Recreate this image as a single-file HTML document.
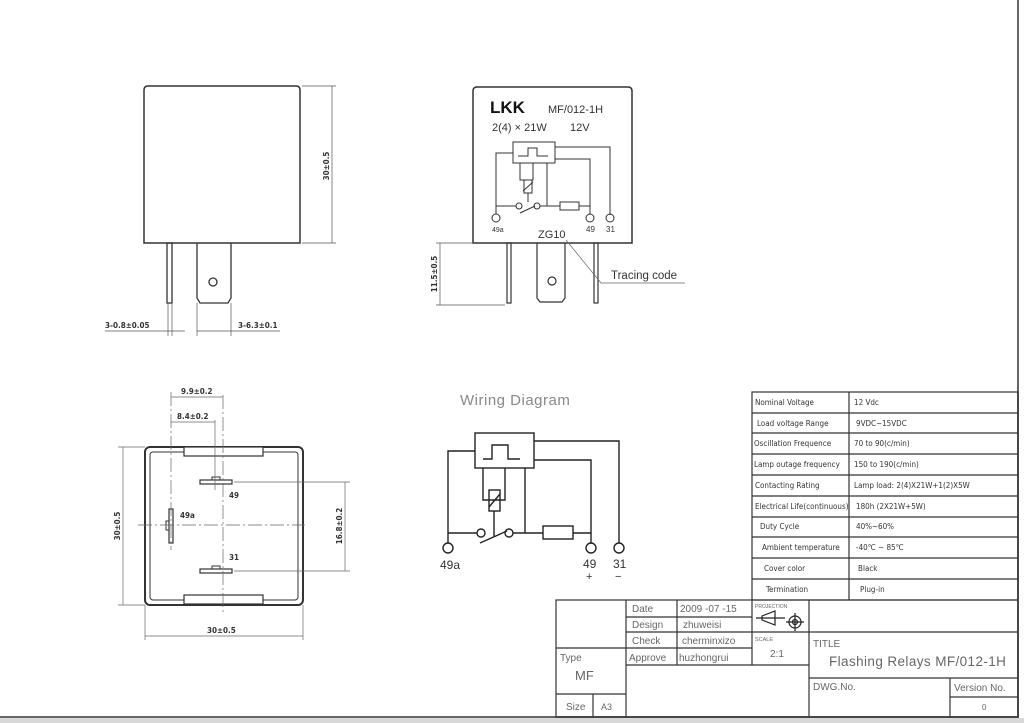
<!DOCTYPE html>
<html><head><meta charset="utf-8"><style>
html,body{margin:0;padding:0;background:#fff}
svg{display:block}
text{font-family:"Liberation Sans","DejaVu Sans",sans-serif;fill:#333}
.t{font-size:8px;font-family:"DejaVu Sans Condensed","Liberation Sans Narrow","Liberation Sans",sans-serif;fill:#333}
.g{fill:#666}
</style></head><body>
<svg width="1024" height="723" viewBox="0 0 1024 723" xmlns="http://www.w3.org/2000/svg">
<rect width="1024" height="723" fill="#fff"/>
<rect x="0" y="718" width="1024" height="5" fill="#d8d8d8"/>
<line x1="0" y1="717" x2="1019" y2="717" stroke="#666" stroke-width="2"/>
<line x1="1018" y1="0" x2="1018" y2="718" stroke="#666" stroke-width="2"/>

<g fill="none" stroke="#333" stroke-width="1.3">
<path d="M144,243 V90 Q144,86 148,86 H296 Q300,86 300,90 V243 Z" stroke-width="1.5"/>
<rect x="167" y="243" width="5" height="60"/>
<path d="M197,243 V298 L200,303 H228 L231,298 V243"/>
<circle cx="213" cy="282" r="4"/>
</g>
<g stroke="#555" stroke-width="0.7" fill="none">
<line x1="302" y1="86" x2="336" y2="86"/><line x1="302" y1="243" x2="336" y2="243"/>
<line x1="332" y1="86" x2="332" y2="243"/>
<line x1="168" y1="303" x2="168" y2="336"/><line x1="172" y1="303" x2="172" y2="336"/>
<line x1="197" y1="303" x2="197" y2="336"/><line x1="231" y1="303" x2="231" y2="336"/>
<line x1="105" y1="331" x2="185" y2="331"/><line x1="197" y1="331" x2="280" y2="331"/>
</g>
<text class="t" transform="translate(329,166) rotate(-90)" text-anchor="middle" font-weight="bold">30±0.5</text>
<text class="t" x="105" y="328" font-weight="bold">3-0.8±0.05</text>
<text class="t" x="238" y="328" font-weight="bold">3-6.3±0.1</text>

<g fill="none" stroke="#333" stroke-width="1.5">
<path d="M473,243 V91 Q473,87 477,87 H628 Q632,87 632,91 V243 Z"/>
<rect x="507" y="243" width="4" height="60" stroke-width="1.2"/>
<rect x="594" y="243" width="4" height="60" stroke-width="1.2"/>
<path d="M537,243 V298 L540,302 H562 L565,298 V243" stroke-width="1.2"/>
<circle cx="552" cy="281" r="4" stroke-width="1.2"/>
</g>
<text x="490" y="113" font-size="17" font-weight="bold" style="fill:#111">LKK</text>
<text x="548" y="113" font-size="11">MF/012-1H</text>
<text x="492" y="131" font-size="11">2(4) × 21W</text>
<text x="570" y="131" font-size="11">12V</text>
<g fill="none" stroke="#333" stroke-width="1">
<rect x="513" y="142" width="42" height="21"/>
<path d="M518,156 H528 V148 H537 V156 H548"/>
<path d="M513,153 H496 V206 H516"/>
<path d="M540,206 H560"/><rect x="560" y="202" width="19" height="8"/>
<path d="M579,206 H590 V159 H555"/>
<path d="M555,147 H610 V215"/>
<path d="M520,163 V180 H533 V163"/><rect x="524" y="180" width="8" height="13"/>
<path d="M523,191 L533,182"/><path d="M528,193 V202"/>
<path d="M547,163 V206"/>
<circle cx="519" cy="206" r="3"/><circle cx="537" cy="206" r="3"/>
<path d="M520,213 L535,206"/>
<path d="M496,206 V214"/><path d="M590,206 V214"/>
<circle cx="496" cy="218" r="4"/><circle cx="590" cy="218" r="4"/><circle cx="610" cy="218" r="4"/>
</g>
<text x="492" y="232" font-size="7">49a</text>
<text x="586" y="232" font-size="8">49</text>
<text x="606" y="232" font-size="8">31</text>
<text x="538" y="238" font-size="11">ZG10</text>
<path d="M566,240 L601,283 H685" fill="none" stroke="#666" stroke-width="0.7"/>
<text x="611" y="279" font-size="11.5">Tracing code</text>
<g stroke="#555" stroke-width="0.7">
<line x1="436" y1="243" x2="473" y2="243"/><line x1="436" y1="305" x2="505" y2="305"/>
<line x1="440" y1="243" x2="440" y2="305"/>
</g>
<text class="t" transform="translate(437,274) rotate(-90)" text-anchor="middle" font-weight="bold">11.5±0.5</text>

<g fill="none" stroke="#333">
<rect x="145" y="447" width="158" height="158" rx="5" stroke-width="2"/>
<rect x="150" y="452" width="148" height="148" rx="3" stroke-width="1"/>
<rect x="184" y="447" width="79" height="9" fill="#fff" stroke-width="1.2"/>
<rect x="184" y="595" width="79" height="9" fill="#fff" stroke-width="1.2"/>
<rect x="200" y="480" width="32" height="4" stroke-width="1.2"/>
<rect x="212" y="477" width="8" height="3" stroke-width="1"/>
<rect x="200" y="569" width="32" height="4" stroke-width="1.2"/>
<rect x="212" y="566" width="8" height="3" stroke-width="1"/>
<rect x="169" y="509" width="4" height="34" stroke-width="1.2"/>
<rect x="166" y="521" width="3" height="9" stroke-width="1"/>
</g>
<g stroke="#666" stroke-width="0.7" fill="none">
<line x1="138" y1="525" x2="305" y2="525" stroke-dasharray="14,3,2,3"/>
<line x1="223" y1="395" x2="223" y2="612" stroke-dasharray="14,3,2,3"/>
<line x1="171" y1="392" x2="171" y2="550" stroke-dasharray="14,3,2,3"/>
<line x1="215" y1="420" x2="215" y2="490"/>
<line x1="171" y1="397" x2="223" y2="397"/>
<line x1="171" y1="422" x2="215" y2="422"/>
<line x1="118" y1="447" x2="145" y2="447"/><line x1="118" y1="605" x2="145" y2="605"/>
<line x1="123" y1="447" x2="123" y2="605"/>
<line x1="234" y1="482" x2="350" y2="482"/><line x1="234" y1="571" x2="350" y2="571"/>
<line x1="345" y1="482" x2="345" y2="571"/>
<line x1="145" y1="605" x2="145" y2="640"/><line x1="303" y1="605" x2="303" y2="640"/>
<line x1="145" y1="636" x2="303" y2="636"/>
</g>
<text class="t" x="181" y="394" font-weight="bold">9.9±0.2</text>
<text class="t" x="177" y="419" font-weight="bold">8.4±0.2</text>
<text class="t" x="229" y="498" font-size="7" font-weight="bold">49</text>
<text class="t" x="229" y="560" font-size="7" font-weight="bold">31</text>
<text class="t" x="180" y="518" font-size="7" font-weight="bold">49a</text>
<text class="t" transform="translate(120,526) rotate(-90)" text-anchor="middle" font-weight="bold">30±0.5</text>
<text class="t" transform="translate(342,526) rotate(-90)" text-anchor="middle" font-weight="bold">16.8±0.2</text>
<text class="t" x="207" y="633" font-weight="bold">30±0.5</text>

<text x="460" y="405" font-size="15" style="fill:#888;letter-spacing:0.5px">Wiring Diagram</text>
<g fill="none" stroke="#222" stroke-width="1.4">
<rect x="475" y="433" width="59" height="35"/>
<path d="M483,459 H492 V445 H508 V459 H520"/>
<path d="M475,451 H448 V543"/>
<path d="M448,533 H477"/><path d="M513,533 H543"/>
<rect x="543" y="526" width="30" height="13"/>
<path d="M573,533 H591 V460 H534"/>
<path d="M534,441 H619 V543"/>
<path d="M483,468 V500 H505 V468"/>
<rect x="489" y="490" width="11" height="21"/>
<path d="M489,507 L500,494"/>
<path d="M494,511 V537"/>
<path d="M525,468 V533"/>
<path d="M591,533 V543"/>
<circle cx="481" cy="533" r="4"/><circle cx="509" cy="533" r="4"/>
<path d="M480,543 L507,531"/>
<circle cx="448" cy="548" r="5"/><circle cx="591" cy="548" r="5"/><circle cx="619" cy="548" r="5"/>
</g>
<text x="440" y="569" font-size="12">49a</text>
<text x="583" y="568" font-size="12">49</text>
<text x="586" y="580" font-size="11">+</text>
<text x="613" y="568" font-size="12">31</text>
<text x="615" y="580" font-size="11">−</text>

<g fill="none" stroke="#333" stroke-width="1.2">
<rect x="752" y="392" width="266" height="208"/>
<line x1="849" y1="392" x2="849" y2="600"/>
<line x1="752" y1="413" x2="1018" y2="413"/><line x1="752" y1="433" x2="1018" y2="433"/>
<line x1="752" y1="454" x2="1018" y2="454"/><line x1="752" y1="475" x2="1018" y2="475"/>
<line x1="752" y1="496" x2="1018" y2="496"/><line x1="752" y1="517" x2="1018" y2="517"/>
<line x1="752" y1="537" x2="1018" y2="537"/><line x1="752" y1="558" x2="1018" y2="558"/>
<line x1="752" y1="579" x2="1018" y2="579"/>
</g>
<text class="t" x="755" y="405" font-size="7.5">Nominal Voltage</text><text class="t" x="854" y="405" font-size="7.5">12 Vdc</text>
<text class="t" x="757" y="426" font-size="7.5">Load voltage Range</text><text class="t" x="856" y="426" font-size="7.5">9VDC~15VDC</text>
<text class="t" x="754" y="446" font-size="7.5">Oscillation Frequence</text><text class="t" x="854" y="446" font-size="7.5">70 to 90(c/min)</text>
<text class="t" x="754" y="467" font-size="7.5">Lamp outage frequency</text><text class="t" x="854" y="467" font-size="7.5">150 to 190(c/min)</text>
<text class="t" x="755" y="488" font-size="7.5">Contacting Rating</text><text class="t" x="854" y="488" font-size="7.5">Lamp load: 2(4)X21W+1(2)X5W</text>
<text class="t" x="755" y="509" font-size="7.5">Electrical Life(continuous)</text><text class="t" x="856" y="509" font-size="7.5">180h  (2X21W+5W)</text>
<text class="t" x="760" y="529" font-size="7.5">Duty Cycle</text><text class="t" x="856" y="529" font-size="7.5">40%~60%</text>
<text class="t" x="762" y="550" font-size="7.5">Ambient temperature</text><text class="t" x="856" y="550" font-size="7.5">-40℃ ~ 85℃</text>
<text class="t" x="764" y="571" font-size="7.5">Cover color</text><text class="t" x="858" y="571" font-size="7.5">Black</text>
<text class="t" x="766" y="592" font-size="7.5">Termination</text><text class="t" x="860" y="592" font-size="7.5">Plug-in</text>

<g fill="none" stroke="#333" stroke-width="1.2">
<rect x="556" y="600" width="462" height="117"/>
<line x1="626" y1="600" x2="626" y2="717"/>
<line x1="677" y1="600" x2="677" y2="665"/>
<line x1="752" y1="600" x2="752" y2="665"/>
<line x1="809" y1="600" x2="809" y2="717"/>
<line x1="626" y1="617" x2="752" y2="617"/>
<line x1="626" y1="632" x2="1018" y2="632"/>
<line x1="626" y1="648" x2="752" y2="648"/>
<line x1="556" y1="648" x2="626" y2="648"/>
<line x1="626" y1="665" x2="809" y2="665"/>
<line x1="809" y1="678" x2="1018" y2="678"/>
<line x1="950" y1="678" x2="950" y2="717"/>
<line x1="950" y1="697" x2="1018" y2="697"/>
<line x1="556" y1="694" x2="626" y2="694"/>
<line x1="593" y1="694" x2="593" y2="717"/>
</g>
<g fill="none" stroke="#222" stroke-width="1.2">
<path d="M762,616 L775,611 V625 L762,620 Z"/>
<line x1="756" y1="618" x2="785" y2="618"/>
<circle cx="795" cy="622" r="6"/><circle cx="795" cy="622" r="2.5"/>
<line x1="786" y1="622" x2="804" y2="622"/><line x1="795" y1="613" x2="795" y2="631"/>
</g>
<text class="g" x="632" y="612" font-size="10">Date</text>
<text class="g" x="632" y="628" font-size="10">Design</text>
<text class="g" x="632" y="644" font-size="10">Check</text>
<text class="g" x="629" y="661" font-size="10">Approve</text>
<text class="g" x="680" y="612" font-size="10">2009 -07 -15</text>
<text class="g" x="683" y="628" font-size="10">zhuweisi</text>
<text class="g" x="682" y="644" font-size="10">cherminxizo</text>
<text class="g" x="679" y="661" font-size="10">huzhongrui</text>
<text class="g" x="755" y="608" font-size="5">PROJECTION</text>
<text class="g" x="755" y="641" font-size="5.5">SCALE</text>
<text class="g" x="770" y="657" font-size="10">2:1</text>
<text class="g" x="813" y="647" font-size="10">TITLE</text>
<text class="g" x="829" y="666" font-size="13.5" style="letter-spacing:0.4px">Flashing Relays MF/012-1H</text>
<text class="g" x="813" y="690" font-size="10">DWG.No.</text>
<text class="g" x="954" y="691" font-size="10">Version No.</text>
<text class="g" x="982" y="710" font-size="8">0</text>
<text class="g" x="560" y="661" font-size="10">Type</text>
<text class="g" x="575" y="680" font-size="13">MF</text>
<text class="g" x="566" y="710" font-size="10">Size</text>
<text class="g" x="601" y="710" font-size="9">A3</text>
</svg>
</body></html>
